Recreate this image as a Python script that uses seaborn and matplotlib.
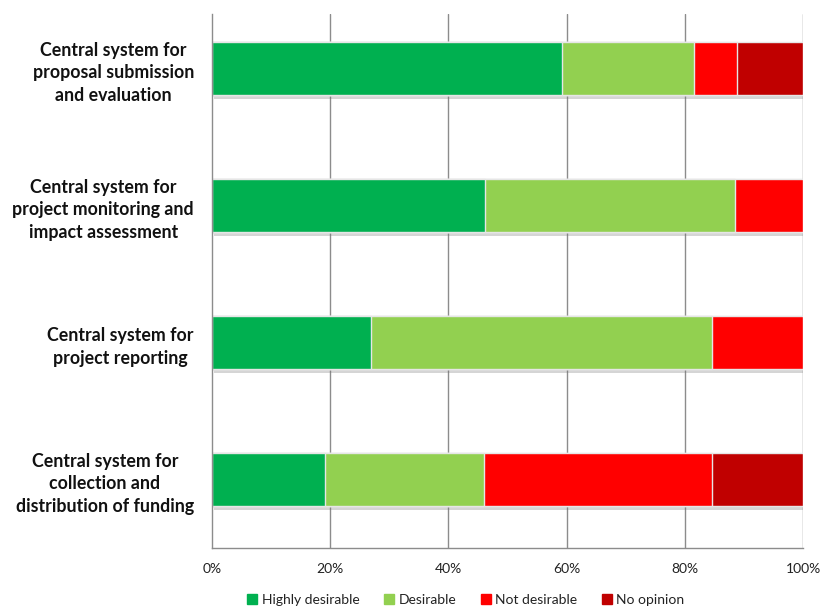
import matplotlib
matplotlib.use("Agg")
import matplotlib.pyplot as plt
import matplotlib.patheffects as pe
from matplotlib.lines import Line2D
import numpy as np
import pandas as pd
import seaborn as sns

# Survey answers, share of respondents (%)
systems = [
    "Central system for\nproposal submission\nand evaluation",
    "Central system for\nproject monitoring and\nimpact assessment",
    "Central system for\nproject reporting",
    "Central system for\ncollection and\ndistribution of funding",
]
answers = ["Highly desirable", "Desirable", "Not desirable", "No opinion"]
highly_desirable = [59.3, 46.2, 26.9, 19.2]
desirable = [22.2, 42.3, 57.7, 26.9]
not_desirable = [7.4, 11.5, 15.4, 38.5]
no_opinion = [11.1, 0.0, 0.0, 15.4]
colors = ["#00B050", "#92D050", "#FF0000", "#C00000"]
x_ticks = [0, 20, 40, 60, 80, 100]
x_tick_labels = ["0%", "20%", "40%", "60%", "80%", "100%"]

sns.set_theme(style="white")
plt.rcParams["font.family"] = ["Lato", "DejaVu Sans"]

df = pd.DataFrame({
    "system": systems,
    "Highly desirable": highly_desirable,
    "Desirable": desirable,
    "Not desirable": not_desirable,
    "No opinion": no_opinion,
})
# cumulative ends of each stacked segment
cum = df[answers].cumsum(axis=1)

fig = plt.figure(figsize=(8.23, 6.08), dpi=100)
ax = fig.add_axes([212 / 823, 1 - 548 / 608, (803 - 212) / 823, (548 - 14) / 608])

# vertical gridlines behind bars
for t in x_ticks[1:]:
    ax.axvline(t, color="#8c8c8c", lw=1.0, zorder=0)

# draw stacked segments from the longest cumulative layer down
for i in range(len(answers) - 1, -1, -1):
    col = answers[i]
    sub = pd.DataFrame({"system": systems, "end": cum[col].values})
    sns.barplot(data=sub, x="end", y="system", orient="h", color=colors[i],
                width=0.39, ax=ax, saturation=1, zorder=2 + (3 - i),
                edgecolor="#e6e6e6", linewidth=1.0)

# soft drop shadow under the full-length bars
n = len(systems)
for p in ax.patches[:n]:
    p.set_path_effects([pe.SimplePatchShadow(offset=(1.5, -3), shadow_rgbFace="#777777", alpha=0.3),
                        pe.Normal()])

ax.set_xlim(0, 100)
ax.set_ylim(3.5, -0.5 + 14 / 136.5)
ax.set_xticks(x_ticks)
ax.set_xticklabels(x_tick_labels, fontsize=10, color="#222222")
ax.set_xlabel("")
ax.set_ylabel("")

ax.set_yticks(range(n))
ax.set_yticklabels(systems, fontsize=12.8, fontweight="bold", color="#111111",
                   multialignment="center", linespacing=1.42)
ax.tick_params(axis="y", length=0, pad=13)
ax.set_yticks([0.5, 1.5, 2.5, 3.5], minor=True)
ax.tick_params(axis="y", which="minor", length=6, color="#8c8c8c", width=1.0, direction="out")
ax.tick_params(axis="x", length=6, color="#8c8c8c", width=1.0, direction="out", pad=5)

for side in ["top", "right"]:
    ax.spines[side].set_visible(False)
for side in ["left", "bottom"]:
    ax.spines[side].set_color("#8c8c8c")
    ax.spines[side].set_linewidth(1.0)
    ax.spines[side].set_zorder(10)

handles = [Line2D([], [], marker="s", linestyle="none", markersize=6.5,
                  markerfacecolor=c, markeredgecolor=c) for c in colors]
fig.legend(handles, answers, loc="center", bbox_to_anchor=(465 / 823, 1 - 600 / 608),
           ncol=4, frameon=False, fontsize=10, handletextpad=0.2, columnspacing=1.6,
           handlelength=1.0, labelcolor="#222222")

fig.savefig("out.png", dpi=100, facecolor="white")
